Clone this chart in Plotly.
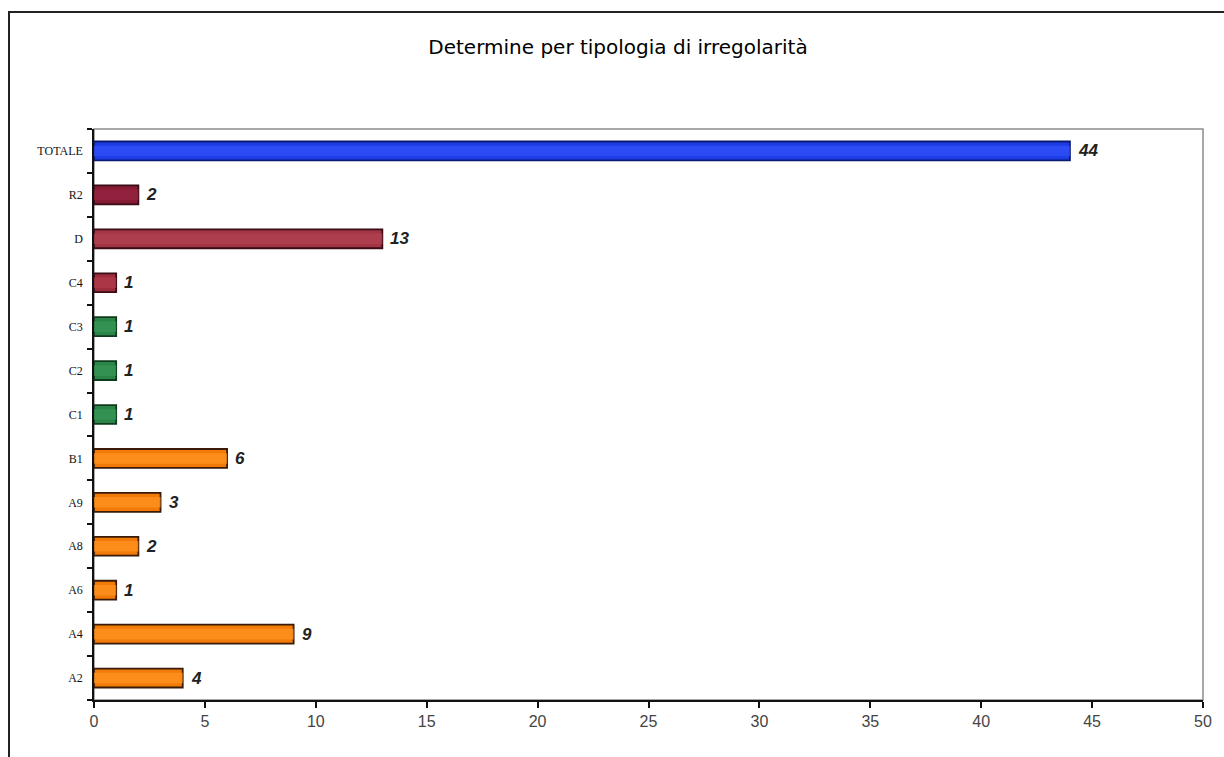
import plotly.graph_objects as go

# Irregularity categories (bottom to top) and their counts
categories = ["A2", "A4", "A6", "A8", "A9", "B1", "C1", "C2", "C3", "C4", "D", "R2", "TOTALE"]
counts = [4, 9, 1, 2, 3, 6, 1, 1, 1, 1, 13, 2, 44]

# Fill, highlight and edge colours per bar
fill_colors = ["#f27a08"] * 6 + ["#2c8548"] * 3 + ["#9e2c3c", "#a23444", "#861a34", "#1e3ce6"]
glow_colors = ["#ff9422"] * 6 + ["#369654"] * 3 + ["#ad3a4a", "#b04252", "#962440", "#3050f8"]
edge_colors = ["#3a1a08"] * 6 + ["#0f3a1c"] * 3 + ["#3a0d16", "#3a0d16", "#3a0d16", "#0b1a70"]

W, H = 1224, 757
L, R, T, B = 94, 21, 129, 57
pw, ph = W - L - R, H - T - B

fig = go.Figure()

fig.add_trace(go.Bar(
    y=categories, x=counts, orientation="h", width=0.43,
    marker=dict(color=fill_colors, line=dict(color=edge_colors, width=1.8)),
    hoverinfo="skip", showlegend=False,
))
# lighter band across the middle of each bar
fig.add_trace(go.Bar(
    y=categories, x=counts, orientation="h", width=0.24,
    marker=dict(color=glow_colors, line=dict(width=0), opacity=0.75),
    hoverinfo="skip", showlegend=False,
))

# value labels just past the end of each bar
annotations = [
    dict(x=v, y=c, xref="x", yref="y", text=f"<b><i>{v}</i></b>",
         showarrow=False, xanchor="left", yanchor="middle", xshift=6,
         font=dict(family="Liberation Sans, Arial", size=17, color="#222222"))
    for c, v in zip(categories, counts)
]

fig.update_layout(
    width=W, height=H,
    barmode="overlay",
    margin=dict(l=L, r=R, t=T, b=B),
    paper_bgcolor="white", plot_bgcolor="white",
    title=dict(
        text="Determine per tipologia di irregolarità",
        x=618 / W, xref="container", xanchor="center",
        y=1 - 47 / H, yref="container", yanchor="middle",
        font=dict(family="DejaVu Sans, Verdana", size=20, color="#000000"),
    ),
    xaxis=dict(
        range=[0, 50], dtick=5, tick0=0,
        showgrid=False, zeroline=False,
        showline=True, linecolor="#111111", linewidth=1.5,
        ticks="outside", ticklen=6, tickcolor="#111111", tickwidth=1.5,
        tickfont=dict(family="Liberation Sans, Arial", size=16, color="#444444"),
    ),
    yaxis=dict(
        type="category", range=[-0.5, 12.5],
        showgrid=False, zeroline=False,
        showline=True, linecolor="#111111", linewidth=1.5,
        ticks="outside", ticklen=5, tickcolor="#111111", tickwidth=1.5,
        tickson="boundaries",
        tickfont=dict(family="Liberation Serif, Times New Roman", size=12, color="#111111"),
        ticklabelstandoff=7,
    ),
    annotations=annotations,
    shapes=[
        # plot-area frame
        dict(type="rect", xref="paper", yref="paper", x0=0, x1=1, y0=0, y1=1,
             line=dict(color="#8c8c8c", width=1.5), layer="below"),
        # outer chart frame
        dict(type="rect", xref="paper", yref="paper",
             x0=(9 - L) / pw, x1=(1240 - L) / pw,
             y0=-(H + 20 - (H - B)) / ph, y1=1 + (T - 12) / ph,
             line=dict(color="#222222", width=2), layer="below"),
    ],
)

fig.write_html("out.html")
